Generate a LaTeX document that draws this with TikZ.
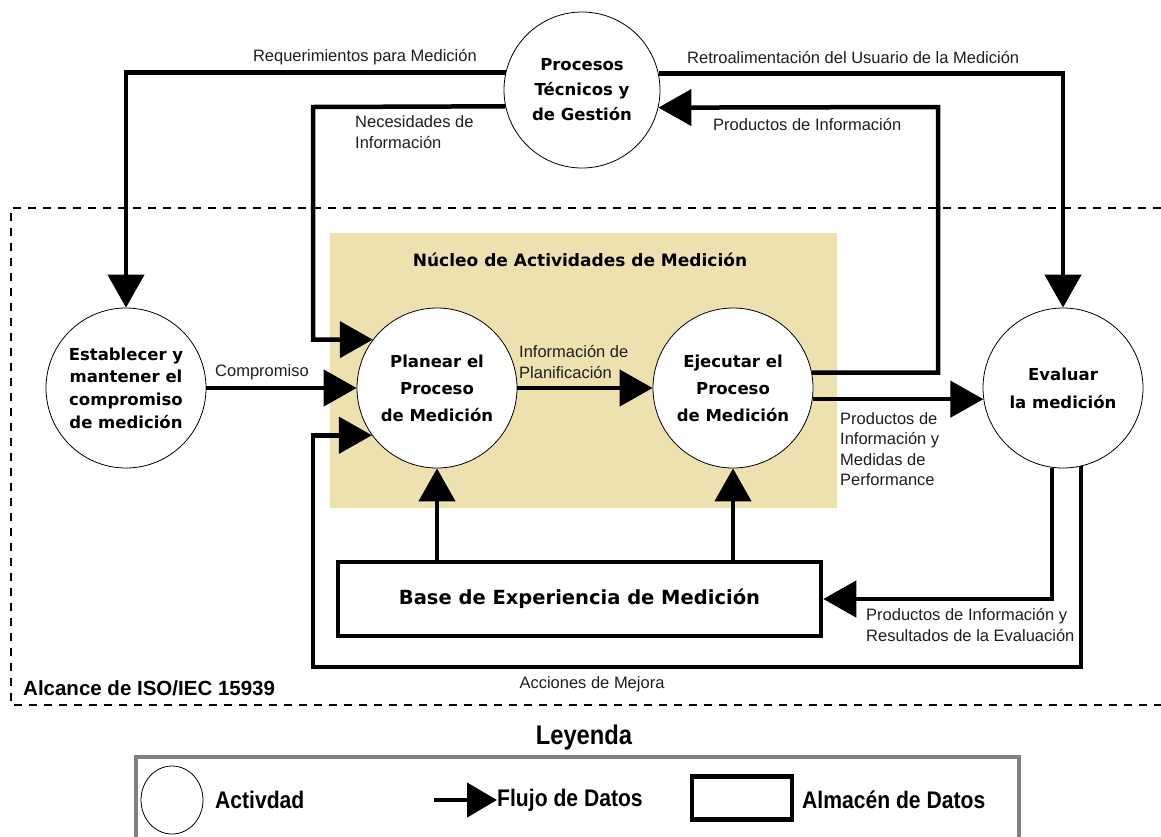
\documentclass[tikz,border=0pt]{standalone}
\usepackage{fontspec}
\setmainfont{Liberation Sans}
\newfontfamily\actfont{DejaVu Sans}
\newfontfamily\legfont[FakeStretch=0.88]{Liberation Sans}
\usepackage{tikz}
\usetikzlibrary{arrows.meta,positioning,shapes.geometric}
\definecolor{nucleo}{RGB}{237,225,176}
\definecolor{legendgray}{RGB}{128,128,128}
\definecolor{lbltext}{RGB}{30,30,30}

\begin{document}
\begin{tikzpicture}[x=1pt,y=-1pt,>={Triangle[length=33pt,width=36pt]},
  activity/.style={circle,draw,line width=0.8pt,fill=white,minimum size=160pt,inner sep=0pt,align=center,
    font=\actfont\bfseries\fontsize{16.5}{27}\selectfont},
  store/.style={draw,line width=4.5pt,fill=white,minimum width=483pt,minimum height=74pt,
    font=\actfont\bfseries\fontsize{19.5}{22}\selectfont},
  flow/.style={line width=4.5pt,->},
  lbl/.style={text=lbltext,font=\fontsize{16.5}{20.5}\selectfont,align=left,inner sep=0pt},
  legtxt/.style={font=\legfont\bfseries\fontsize{24}{28}\selectfont,inner sep=0pt,anchor=west}]

\useasboundingbox (0,0) rectangle (1161,836);

% zona de ISO/IEC 15939 y nucleo
\fill[nucleo] (330,233) rectangle (837,508);
\draw[line width=1.3pt,dash pattern=on 8pt off 7pt] (1161,208) -- (11,208) -- (11,705) -- (1161,705);

\node[font=\actfont\bfseries\fontsize{17}{20}\selectfont] (nucleolbl) at (580,260) {Núcleo de Actividades de Medición};

\node[activity,minimum size=156pt,font=\actfont\bfseries\fontsize{16.5}{25}\selectfont] (proc) at (582,90) {Procesos\\Técnicos y\\de Gestión};
\node[activity,font=\actfont\bfseries\fontsize{16.5}{22.7}\selectfont] (estab) at (126,388) {Establecer y\\mantener el\\compromiso\\de medición};
\node[activity] (plan) at (437,388) {Planear el\\Proceso\\de Medición};
\node[activity] (ejec) at (733,388) {Ejecutar el\\Proceso\\de Medición};
\node[activity,font=\actfont\bfseries\fontsize{16.5}{28}\selectfont] (eval) at (1063,388) {Evaluar\\la medición};
\node[store] (base) at (579.5,599) {Base de Experiencia de Medición};

\coordinate (needs) at (313,107);
\coordinate (prodinfo) at (938,107);
\coordinate (mejora) at (313,667);

% flujos de datos
\draw[flow] (proc.167.4) -| (estab.north);
\draw[flow] (proc.192.6) -- (needs) |- (plan.143);
\draw[flow] (proc.12.6) -| (eval.north);
\draw[flow] (ejec.11.5) -| (prodinfo) -- (proc.347.4);
\draw[flow] (estab) -- (plan);
\draw[flow] (plan) -- (ejec);
\draw[flow] (ejec.352) -- (eval.188);
\draw[flow] (plan.south |- base.north) -- (plan.south);
\draw[flow] (ejec.south |- base.north) -- (ejec.south);
\draw[flow] (eval.262.8) |- (base.east);
\draw[flow] (eval.283.7) |- (mejora) |- (plan.216);

% etiquetas
\node[lbl,anchor=east] (reqlbl) at (477,57) {Requerimientos para Medición};
\node[lbl,anchor=west] (neclbl) at (355,132) {Necesidades de\\Información};
\node[lbl,anchor=west] (retlbl) at (687,58) {Retroalimentación del Usuario de la Medición};
\node[lbl,anchor=west] (pilbl) at (713,125) {Productos de Información};
\node[lbl,anchor=west] (comlbl) at (215,372) {Compromiso};
\node[lbl,anchor=west] (planlbl) at (519,362) {Información de\\Planificación};
\node[lbl,anchor=west] (perflbl) at (840,449) {Productos de\\Información y\\Medidas de\\Performance};
\node[lbl,anchor=west] (evallbl) at (866,625) {Productos de Información y\\Resultados de la Evaluación};
\node[lbl] (mejlbl) at (592,684) {Acciones de Mejora};
\node[font=\bfseries\fontsize{20.5}{24}\selectfont,anchor=west,inner sep=0pt] (alcance) at (23,688) {Alcance de ISO/IEC 15939};

% leyenda
\node[font=\legfont\bfseries\fontsize{27}{30}\selectfont] (leyenda) at (584,738) {Leyenda};
\draw[legendgray,line width=4pt] (1019,850) -- (1019,757) -- (136,757) -- (136,850);
\node[ellipse,draw,line width=0.8pt,minimum width=62pt,minimum height=68pt,inner sep=0pt] (legact) at (172,800) {};
\node[legtxt] (legacttxt) at (215,800) {Activdad};
\coordinate (legfrom) at (434,800);
\node[legtxt] (legflow) at (497,800) {Flujo de Datos};
\draw[line width=4.5pt,-{Triangle[length=30pt,width=34pt]}] (legfrom) -- (legflow.west);
\node[draw,line width=4.5pt,minimum width=100pt,minimum height=43pt] (legstore) at (742,798) {};
\node[legtxt] (legstoretxt) at (802,800) {Almacén de Datos};

\end{tikzpicture}
\end{document}
